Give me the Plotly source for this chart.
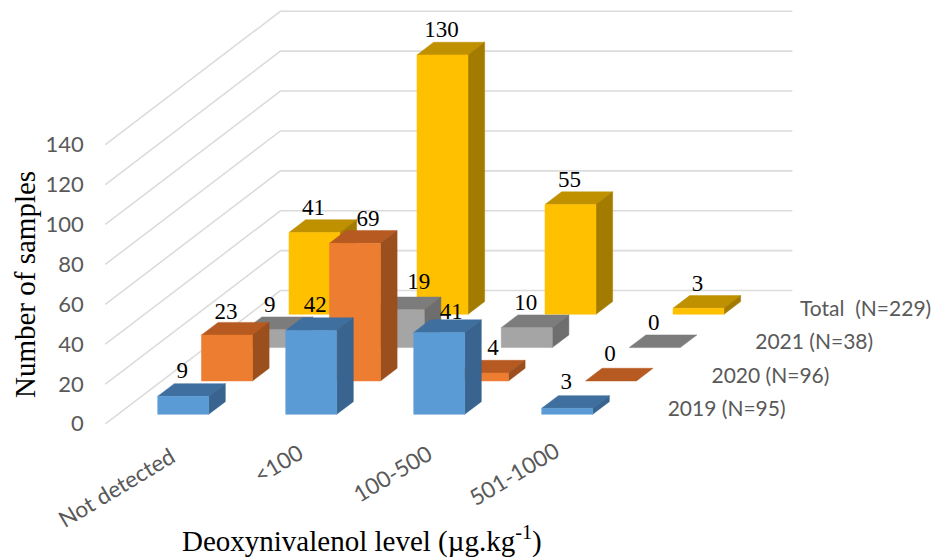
import plotly.graph_objects as go

# Sample counts per deoxynivalenol class and harvest series
levels = ["Not detected", "<100", "100-500", "501-1000"]
series_names = ["2019 (N=95)", "2020 (N=96)", "2021 (N=38)", "Total  (N=229)"]
counts_2019 = [9, 42, 41, 3]
counts_2020 = [23, 69, 4, 0]
counts_2021 = [9, 19, 10, 0]
counts_total = [41, 130, 55, 3]
value_ticks = [0, 20, 40, 60, 80, 100, 120, 140]

rows = [counts_2019, counts_2020, counts_2021, counts_total]

# (front, top, side) shades for each series
shades = [
    ("#5B9BD5", "#3F6F9E", "#39648F"),
    ("#ED7D31", "#B65A22", "#9A4F1D"),
    ("#A5A5A5", "#7C7C7C", "#6E6E6E"),
    ("#FFC000", "#BF9000", "#A37B00"),
]

# Oblique projection: axis x counts categories, axis y counts samples.
PX_PER_CAT = 128.0
PX_PER_VAL = 1.995
X_ORIGIN_PX = 157.7
Y_ORIGIN_PX = 414.3
ROW_DX = 43.77 / PX_PER_CAT
ROW_DY = 33.35 / PX_PER_VAL
BAR_W = 51.0 / PX_PER_CAT
BAR_D = 0.38
FLOOR_FRONT = -0.29
FLOOR_BACK = 3.71
CAT_START = -0.31
CAT_END = 3.69

W, H = 934, 558


def project(cat, row, val):
    return cat + row * ROW_DX, val + row * ROW_DY


def px_dx(px):
    return px / PX_PER_CAT


def px_dy(px):
    return px / PX_PER_VAL


fig = go.Figure()

# Wall gridlines: up the side wall, then along the back wall
gx, gy = [], []
for t in value_ticks:
    for c, r in ((CAT_START, FLOOR_FRONT), (CAT_START, FLOOR_BACK), (CAT_END, FLOOR_BACK)):
        x, y = project(c, r, t)
        gx.append(x)
        gy.append(y)
    gx.append(None)
    gy.append(None)
fig.add_trace(go.Scatter(x=gx, y=gy, mode="lines", hoverinfo="skip",
                         line=dict(color="#DCDCDC", width=1.6)))


def closed(path):
    xs, ys = [], []
    for c, r, v in path:
        x, y = project(c, r, v)
        xs.append(x)
        ys.append(y)
    xs.extend([xs[0], None])
    ys.extend([ys[0], None])
    return xs, ys


def add_faces(polygons, colour, name):
    xs, ys = [], []
    for p in polygons:
        a, b = closed(p)
        xs += a
        ys += b
    fig.add_trace(go.Scatter(x=xs, y=ys, mode="lines", fill="toself", fillcolor=colour,
                             line=dict(color=colour, width=0.5), name=name, hoverinfo="skip"))


# Back rows are painted first so nearer columns cover them
for r in (3, 2, 1, 0):
    front_col, top_col, side_col = shades[r]
    tops, sides, fronts = [], [], []
    for c, v in enumerate(rows[r]):
        c1 = c + BAR_W
        r1 = r + BAR_D
        tops.append([(c, r, v), (c1, r, v), (c1, r1, v), (c, r1, v)])
        if v > 0:
            sides.append([(c1, r, 0), (c1, r1, 0), (c1, r1, v), (c1, r, v)])
            fronts.append([(c, r, 0), (c1, r, 0), (c1, r, v), (c, r, v)])
    add_faces(tops, top_col, series_names[r])
    if sides:
        add_faces(sides, side_col, series_names[r])
        add_faces(fronts, front_col, series_names[r])

# Pixel nudges for value labels that sit away from their column
label_nudge = {(1, 0): (0, 2), (1, 1): (14, 1), (2, 1): (21, -3), (0, 2): (13, 4),
               (1, 2): (11, 0), (0, 1): (5, -1), (3, 3): (0, 1), (1, 3): (0, -2), (0, 3): (0, -1)}

for r in range(4):
    lx, ly, lt = [], [], []
    for c, v in enumerate(rows[r]):
        nx, ny = label_nudge.get((r, c), (0, 0))
        x, _ = project(c + BAR_W / 2, r, v)
        _, y = project(c, r + BAR_D, v)
        lx.append(x + px_dx(nx - 1))
        ly.append(y + px_dy(11 - ny))
        lt.append(str(v))
    fig.add_trace(go.Scatter(x=lx, y=ly, text=lt, mode="text", textposition="middle center",
                             hoverinfo="skip",
                             textfont=dict(family="Liberation Serif", size=23, color="#000000")))

# Value axis labels beside the side wall
tx, ty = [], []
for t in value_ticks:
    x, y = project(CAT_START, FLOOR_FRONT, t)
    tx.append(x + px_dx(-21.5))
    ty.append(y - px_dy(2))
fig.add_trace(go.Scatter(x=tx, y=ty, text=[str(t) for t in value_ticks], mode="text",
                         textposition="middle left", hoverinfo="skip",
                         textfont=dict(family="Lato", size=22, color="#595959")))

# Series names at the end of each row
sx, sy = [], []
for r in range(4):
    x, y = project(3 + BAR_W, r, 0)
    sx.append(x + px_dx(75 if r < 3 else 76))
    sy.append(y + px_dy(3.5))
fig.add_trace(go.Scatter(x=sx, y=sy, text=series_names, mode="text",
                         textposition="middle right", hoverinfo="skip",
                         textfont=dict(family="Lato", size=21, color="#595959")))

# Category names, slanted under the floor
cat_label_dx = [-67, -33, -47, -53]
cat_label_dy = [-73, -49, -59, -59]
annotations = []
for c, name in enumerate(levels):
    annotations.append(dict(
        x=c + BAR_W / 2 + px_dx(cat_label_dx[c]),
        y=px_dy(cat_label_dy[c]),
        xref="x", yref="y", text=name, textangle=-31, showarrow=False,
        xanchor="center", yanchor="middle",
        font=dict(family="Lato", size=22.5, color="#595959")))

annotations.append(dict(
    x=362 / W, y=1 - 539 / H, xref="paper", yref="paper", showarrow=False,
    xanchor="center", yanchor="middle",
    text="Deoxynivalenol level (µg.kg<sup>-1</sup>)",
    font=dict(family="Liberation Serif", size=29, color="#000000")))
annotations.append(dict(
    x=25 / W, y=1 - 285 / H, xref="paper", yref="paper", showarrow=False, textangle=-90,
    xanchor="center", yanchor="middle",
    text="Number of samples",
    font=dict(family="Liberation Serif", size=29, color="#000000")))

fig.update_layout(
    width=W, height=H, margin=dict(l=0, r=0, t=0, b=0, pad=0),
    paper_bgcolor="white", plot_bgcolor="white", showlegend=False,
    xaxis=dict(range=[-X_ORIGIN_PX / PX_PER_CAT, (W - X_ORIGIN_PX) / PX_PER_CAT],
               visible=False, fixedrange=True),
    yaxis=dict(range=[(Y_ORIGIN_PX - H) / PX_PER_VAL, Y_ORIGIN_PX / PX_PER_VAL],
               visible=False, fixedrange=True),
    annotations=annotations,
)

fig.write_html("out.html", config={"displayModeBar": False})
